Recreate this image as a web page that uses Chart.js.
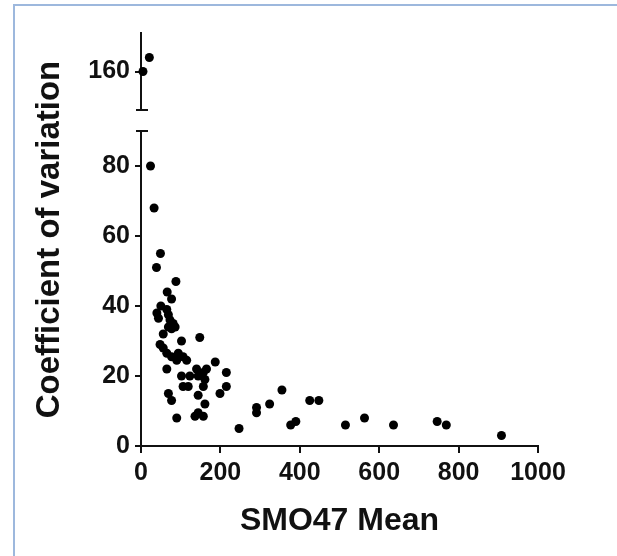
<!DOCTYPE html>
<html>
<head>
<meta charset="utf-8">
<title>Coefficient of variation vs SMO47 Mean</title>
<script src="https://cdn.jsdelivr.net/npm/chart.js@4.4.0/dist/chart.umd.min.js"></script>
<style>
    html, body { margin: 0; padding: 0; background: #fff; }
    #wrap { position: relative; width: 617px; height: 556px; }
    #frame {
        position: absolute; left: 13px; top: 4px; right: 0; bottom: 0;
        border-top: 2px solid #9db8dd; border-left: 2px solid #9db8dd;
        pointer-events: none;
    }
</style>
</head>
<body>
<div id="wrap">
    <div id="frame"></div>
    <canvas id="chart" width="617" height="556"></canvas>
</div>
<script>
const xTickLabels = [0, 200, 400, 600, 800, 1000];
const lowTickLabels = [0, 20, 40, 60, 80];
const highTickLabels = [160];

// points above the axis break
const highMean = [5, 21];
const highCv = [160, 164];

// points below the axis break
const lowMean = [24, 33, 49, 39, 88, 66, 77, 50, 40, 44, 65, 69, 73, 81, 69, 77, 86, 56, 102, 148,
    48, 56, 65, 77, 94, 106, 115, 90, 65, 187, 140, 165, 102, 123, 144, 157, 215, 161, 106, 119,
    157, 215, 199, 69, 77, 144, 161, 90, 136, 144, 157, 247, 291, 291, 324, 355, 377, 390, 425, 448,
    515, 563, 636, 746, 769, 908];
const lowCv = [80, 68, 55, 51, 47, 44, 42, 40, 38, 36.5, 39, 37.5, 36, 35, 34, 33.5, 34, 32, 30, 31,
    29, 28, 26.5, 25.5, 26.5, 25.5, 24.5, 24.5, 22, 24, 22, 22, 20, 20, 20, 21, 21, 19, 17, 17,
    17, 17, 15, 15, 13, 14.5, 12, 8, 8.5, 9.5, 8.5, 5, 11, 9.5, 12, 16, 6, 7, 13, 13,
    6, 8, 6, 7, 6, 3];

const ink = '#111';
const fontFamily = '"Liberation Sans", Arial, sans-serif';

function toPoints(xs, ys) {
    return xs.map((x, i) => ({ x: x, y: ys[i] }));
}

function fixedTicks(values) {
    return function(scale) {
        scale.ticks = values.map(v => ({ value: v }));
    };
}

function noEdgePadding(width) {
    return function(scale) {
        scale.width = width;
        scale.paddingTop = 0;
        scale.paddingBottom = 0;
    };
}

const axisBreaks = {
    id: 'axisBreaks',
    afterDraw(chart) {
        const ctx = chart.ctx;
        const low = chart.scales.yLow;
        const high = chart.scales.yHigh;
        const x = chart.chartArea.left;
        ctx.save();
        ctx.strokeStyle = ink;
        ctx.lineWidth = 2;
        ctx.beginPath();
        ctx.moveTo(x - 5, high.bottom);
        ctx.lineTo(x + 7, high.bottom);
        ctx.moveTo(x - 5, low.top);
        ctx.lineTo(x + 7, low.top);
        ctx.stroke();
        ctx.restore();
    }
};

const tickFont = { family: fontFamily, size: 25, weight: 'bold' };

function segmentAxis(min, max, weight, ticks) {
    return {
        type: 'linear',
        position: 'left',
        stack: 'cv',
        stackWeight: weight,
        min: min,
        max: max,
        afterBuildTicks: fixedTicks(ticks),
        afterFit: noEdgePadding(70),
        border: { color: ink, width: 2 },
        grid: { drawOnChartArea: false, drawTicks: true, tickLength: 6, color: ink, lineWidth: 2 },
        ticks: { font: tickFont, color: ink, padding: 5, callback: v => String(v) }
    };
}

var ctx = document.getElementById('chart').getContext('2d');
var chart = new Chart(ctx, {
    type: 'scatter',
    data: {
        datasets: [
            {
                data: toPoints(lowMean, lowCv),
                xAxisID: 'x',
                yAxisID: 'yLow',
                backgroundColor: '#000',
                borderWidth: 0,
                pointRadius: 4.5,
                clip: false
            },
            {
                data: toPoints(highMean, highCv),
                xAxisID: 'x',
                yAxisID: 'yHigh',
                backgroundColor: '#000',
                borderWidth: 0,
                pointRadius: 4.5,
                clip: false
            }
        ]
    },
    options: {
        responsive: false,
        animation: false,
        devicePixelRatio: 1,
        layout: { padding: { left: 0, top: 33, right: 79, bottom: 0 } },
        plugins: {
            legend: { display: false },
            tooltip: { enabled: false }
        },
        scales: {
            x: {
                type: 'linear',
                position: 'bottom',
                min: 0,
                max: 1000,
                afterBuildTicks: fixedTicks(xTickLabels),
                afterFit: function(scale) {
                    scale.height = 110;
                    scale.paddingLeft = 0;
                    scale.paddingRight = 0;
                },
                border: { color: ink, width: 2 },
                grid: { drawOnChartArea: false, drawTicks: true, tickLength: 7, color: ink, lineWidth: 2 },
                ticks: { font: tickFont, color: ink, padding: 5, maxRotation: 0, callback: v => String(v) },
                title: {
                    display: true,
                    text: 'SMO47 Mean',
                    color: ink,
                    font: { family: fontFamily, size: 32, weight: 'bold' },
                    padding: { top: 0, bottom: 16 }
                }
            },
            yLow: segmentAxis(0, 90, 90, lowTickLabels),
            yGap: {
                type: 'linear',
                position: 'left',
                stack: 'cv',
                stackWeight: 6,
                afterFit: noEdgePadding(70),
                border: { display: false },
                grid: { display: false },
                ticks: { display: false }
            },
            yHigh: segmentAxis(149, 171, 22, highTickLabels),
            yTitle: {
                type: 'linear',
                position: 'left',
                weight: 10,
                afterFit: noEdgePadding(71),
                border: { display: false },
                grid: { display: false },
                ticks: { display: false },
                title: {
                    display: true,
                    text: 'Coefficient of variation',
                    color: ink,
                    font: { family: fontFamily, size: 33, weight: 'bold' },
                    padding: { top: 30, bottom: 0 }
                }
            }
        }
    },
    plugins: [axisBreaks]
});
</script>
</body>
</html>
